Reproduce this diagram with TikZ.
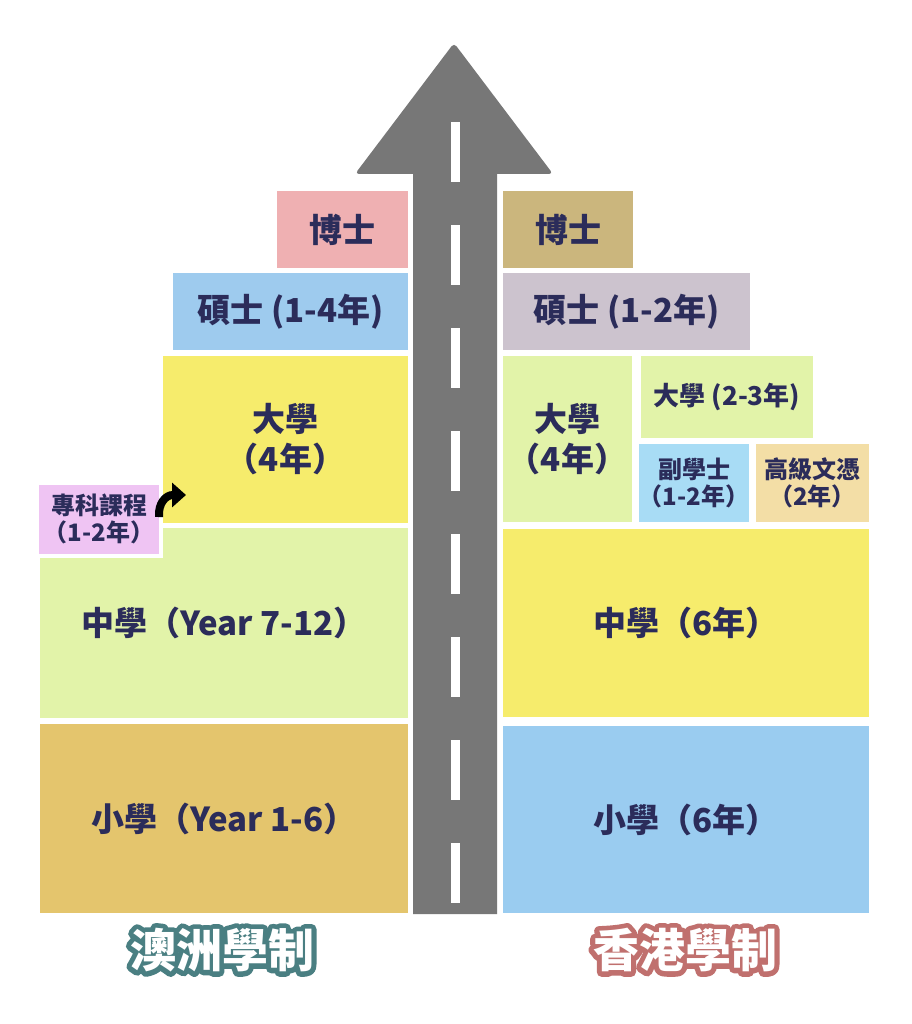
\documentclass[tikz,border=0pt]{standalone}
\usepackage{fontspec}
\setmainfont{Noto Sans CJK TC}
\newfontfamily\rimfont{Noto Sans CJK TC}[FakeBold=22]
\usepackage{tikz}
\usetikzlibrary{arrows.meta}

\definecolor{ink}{HTML}{2B2C5A}
\definecolor{roadgray}{HTML}{777777}
\definecolor{rosebox}{HTML}{EFB0B2}
\definecolor{skybox}{HTML}{9ECBEE}
\definecolor{lemonbox}{HTML}{F6EC6C}
\definecolor{lilacbox}{HTML}{EFC4F3}
\definecolor{limebox}{HTML}{E2F3A9}
\definecolor{goldbox}{HTML}{E4C56D}
\definecolor{khakibox}{HTML}{CBB67D}
\definecolor{mauvebox}{HTML}{CCC3CE}
\definecolor{icebox}{HTML}{A8DCF5}
\definecolor{peachbox}{HTML}{F3DEA6}
\definecolor{bluebox}{HTML}{9ACCF0}
\definecolor{tealrim}{HTML}{4A7F82}
\definecolor{roserim}{HTML}{C0706E}

\newcommand{\bigtxt}{\fontsize{33}{40}\selectfont\bfseries}
\newcommand{\midtxt}{\fontsize{26}{30}\selectfont\bfseries}
\newcommand{\smalltxt}{\fontsize{24}{27}\selectfont\bfseries}
\newcommand{\titletxt}{\fontsize{46}{50}\selectfont\bfseries}

\begin{document}
\begin{tikzpicture}[x=1pt,y=-1pt,
    every node/.append style={text=ink,align=center,inner sep=0pt},
    blk/.style={fill=#1,draw=none,font=\bigtxt},
    rim/.style={font=\rimfont\titletxt,text=#1,line join=round,miter limit=1},
    curvearrow/.style={line width=8pt,-{Triangle[width=24pt,length=14pt]}}]
    \useasboundingbox[fill=white] (0,0) rectangle (911,1024);

    % road with arrow head
    \fill[roadgray] (413,914) -- (413,174) [rounded corners=4pt] -- (355,174)
        -- (454,43) -- (553,174) [sharp corners] -- (497,174) -- (497,914) -- cycle;
    \foreach \k in {0,...,7}
        \fill[white] (451,{122+103*\k}) rectangle (460,{182+103*\k});

    % left side
    \node[blk=rosebox,minimum width=131,minimum height=77] (phdAU) at (342.5,229.5) {博士};
    \node[blk=skybox,minimum width=235,minimum height=77] (masAU) at (290.5,311.5) {碩士 (1-4年)};
    \node[blk=lemonbox,minimum width=245,minimum height=167] (uniAU) at (285.5,439.5) {大學\\（4年）};
    \node[blk=limebox,minimum width=368,minimum height=190] (secAU) at (224,623) {中學（Year 7-12）};
    \node[blk=lilacbox,draw=white,line width=4pt,minimum width=124,minimum height=73,
          font=\smalltxt] (dipAU) at (99,519) {專科課程\\（1-2年）};
    \node[blk=goldbox,minimum width=368,minimum height=189] (priAU) at (224,818.5) {小學（Year 1-6）};
    \coordinate (arrEnd) at (186,495);
    \draw[curvearrow] ([xshift=-4pt,yshift=2pt]dipAU.east) .. controls (158,503) and (166,495) .. (arrEnd);

    % right side
    \node[blk=khakibox,minimum width=130,minimum height=77] (phdHK) at (568,229.5) {博士};
    \node[blk=mauvebox,minimum width=247,minimum height=77] (masHK) at (626.5,311.5) {碩士 (1-2年)};
    \node[blk=limebox,minimum width=129,minimum height=166] (uniHK) at (567.5,439) {大學\\（4年）};
    \node[blk=limebox,minimum width=172,minimum height=82,font=\midtxt] (topHK) at (727,397) {大學 (2-3年)};
    \node[blk=icebox,minimum width=110,minimum height=78,font=\smalltxt] (adHK) at (694,483) {副學士\\（1-2年）};
    \node[blk=peachbox,minimum width=113,minimum height=78,font=\smalltxt] (hdHK) at (812.5,483) {高級文憑\\（2年）};
    \node[blk=lemonbox,minimum width=366,minimum height=188] (secHK) at (686,623) {中學（6年）};
    \node[blk=bluebox,minimum width=366,minimum height=187] (priHK) at (686,819.5) {小學（6年）};

    % titles
    \node[rim=tealrim] (auRim) at (222,950) {澳洲學制};
    \node[rim=roserim] (hkRim) at (685,950) {香港學制};
    \node[font=\titletxt,text=white] (auTitle) at (222,950) {澳洲學制};
    \node[font=\titletxt,text=white] (hkTitle) at (685,950) {香港學制};
\end{tikzpicture}
\end{document}
